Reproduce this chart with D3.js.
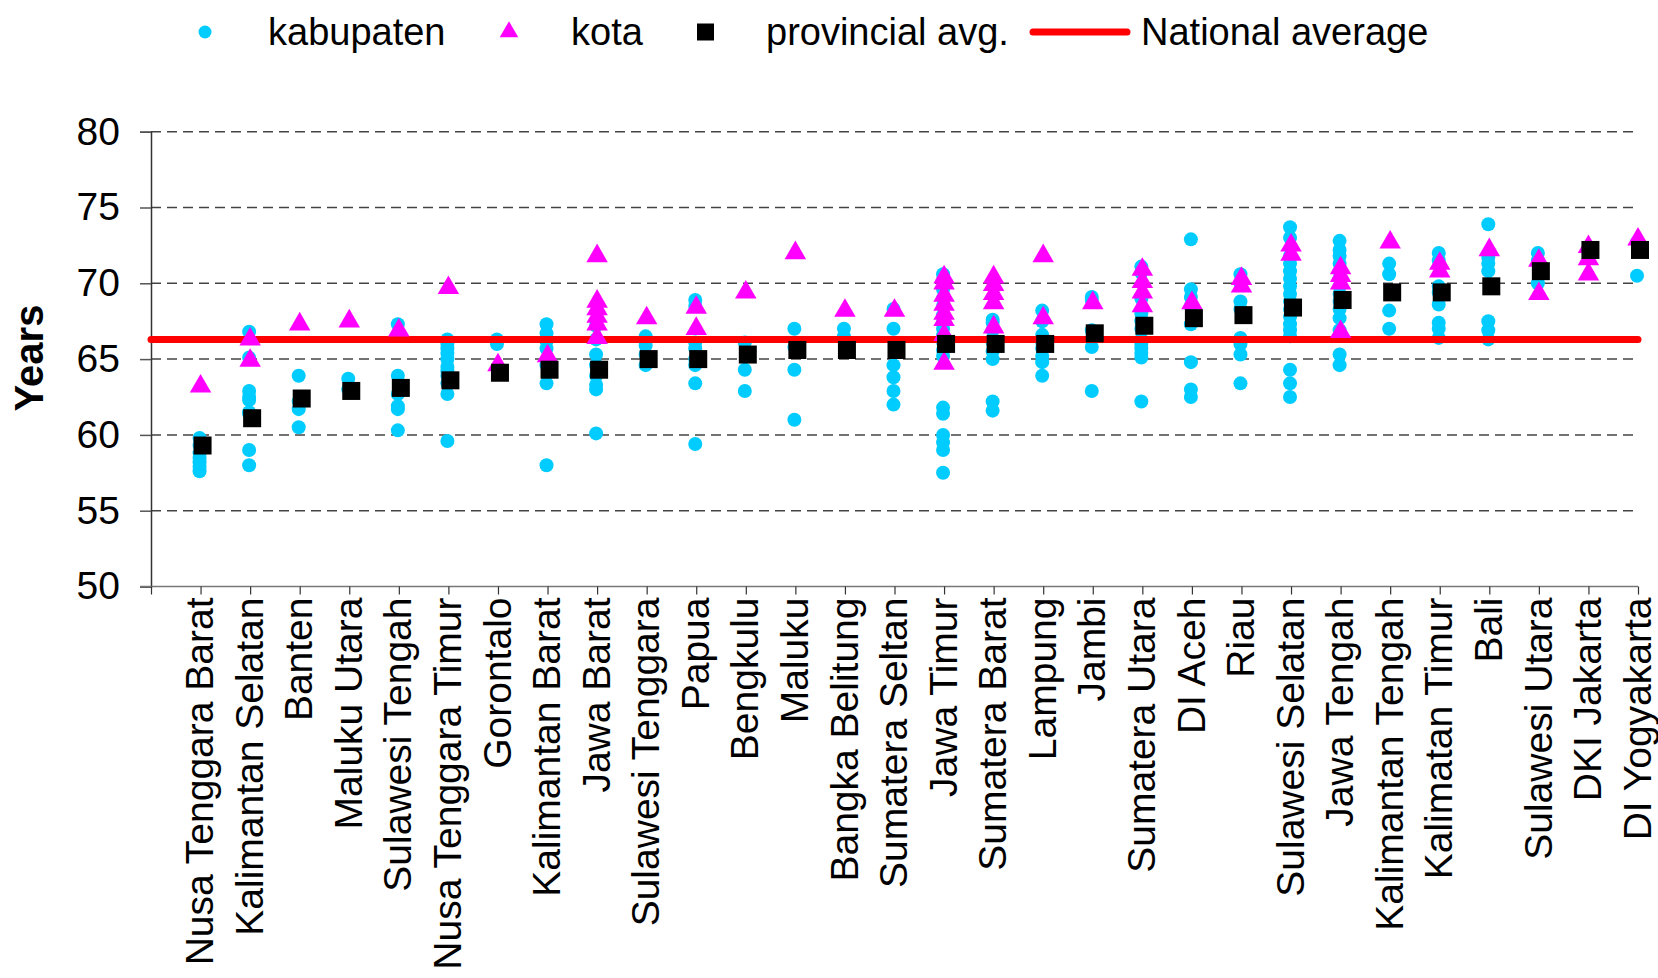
<!DOCTYPE html>
<html>
<head>
<meta charset="utf-8">
<script src="https://cdn.jsdelivr.net/npm/d3@7"></script>
<style>
  body { margin: 0; background: #fff; }
  text { font-family: "Liberation Sans", Arial, sans-serif; }
</style>
</head>
<body>
<script>
var provinces = ['Nusa Tenggara Barat', 'Kalimantan Selatan', 'Banten', 'Maluku Utara', 'Sulawesi Tengah',
    'Nusa Tenggara Timur', 'Gorontalo', 'Kalimantan Barat', 'Jawa Barat', 'Sulawesi Tenggara', 'Papua',
    'Bengkulu', 'Maluku', 'Bangka Belitung', 'Sumatera Seltan', 'Jawa Timur', 'Sumatera Barat', 'Lampung',
    'Jambi', 'Sumatera Utara', 'DI Aceh', 'Riau', 'Sulawesi Selatan', 'Jawa Tengah', 'Kalimantan Tengah',
    'Kalimatan Timur', 'Bali', 'Sulawesi Utara', 'DKI Jakarta', 'DI Yogyakarta'];

// one list per province, same order as above
var kabupaten = [
    [59.8, 59.3, 58.8, 58.5, 58.2, 57.9, 57.6],
    [66.8, 65.1, 62.9, 62.5, 62.3, 61.5, 61.4, 59.0, 58.0],
    [63.9, 62.2, 61.7, 60.5],
    [63.7, 63.0],
    [67.3, 63.9, 62.7, 61.9, 61.7, 60.3],
    [66.3, 66.0, 65.7, 65.4, 65.0, 64.5, 64.2, 63.9, 63.4, 62.7, 59.6],
    [66.3, 66.0],
    [67.3, 66.7, 66.2, 65.7, 64.6, 63.4, 58.0],
    [67.2, 66.3, 65.3, 64.6, 63.9, 63.3, 63.0, 60.1],
    [66.5, 65.9, 65.3, 64.6],
    [68.9, 68.5, 66.1, 65.7, 65.0, 64.6, 63.4, 59.4],
    [66.1, 64.3, 62.9],
    [67.0, 65.8, 64.3, 61.0],
    [67.0, 66.5],
    [68.3, 67.0, 64.6, 63.8, 62.9, 62.0],
    [70.6, 70.2, 69.6, 69.0, 68.5, 67.9, 67.4, 67.0, 66.6, 66.1, 65.6, 65.2, 61.8, 61.4, 60.0, 59.5, 59.0, 57.5],
    [67.6, 67.4, 66.9, 66.1, 65.5, 65.0, 62.2, 61.6],
    [68.2, 67.5, 66.6, 66.1, 65.7, 65.2, 64.8, 63.9],
    [69.1, 68.9, 66.9, 65.8, 62.9],
    [71.1, 70.7, 69.0, 68.0, 67.5, 67.0, 66.3, 66.0, 65.7, 65.4, 65.1, 62.2],
    [72.9, 69.6, 69.1, 68.5, 67.3, 64.8, 63.0, 62.5],
    [70.6, 70.0, 68.8, 68.3, 66.4, 66.0, 65.3, 63.4],
    [73.7, 73.0, 71.8, 71.3, 70.8, 70.3, 69.8, 69.3, 68.8, 68.3, 67.8, 67.3, 66.9, 66.5, 64.3, 63.4, 62.5],
    [72.8, 72.2, 71.8, 71.3, 70.8, 70.3, 69.8, 69.3, 68.8, 68.3, 67.7, 66.9, 65.3, 64.6],
    [71.3, 70.6, 68.2, 67.0],
    [72.0, 71.5, 69.8, 69.4, 68.6, 67.4, 67.0, 66.4],
    [73.9, 71.7, 71.3, 70.8, 67.5, 66.9, 66.3],
    [72.0, 71.5, 70.0],
    [],
    [72.7, 70.5]
];

var kota = [
    [63.2], [66.3, 64.9], [67.3], [67.5], [66.9], [69.7], [64.6], [65.2],
    [71.8, 68.8, 68.3, 67.8, 67.3, 66.4],
    [67.7], [68.4, 67.0], [69.4], [72.0], [68.2], [68.2],
    [70.4, 70.0, 69.2, 68.6, 68.0, 67.6, 66.6, 64.7],
    [70.4, 69.9, 69.3, 68.7, 67.1],
    [71.8, 67.7], [68.7], [70.9, 70.1, 69.4, 68.5], [68.7], [70.3, 69.8], [72.5, 71.9],
    [71.0, 70.5, 70.0, 66.8], [72.7], [71.3, 70.8], [72.2], [71.5, 69.3],
    [72.4, 71.6, 70.6], [72.9]
];

var provAvg = [59.3, 61.1, 62.4, 62.9, 63.1, 63.6, 64.1, 64.3, 64.3, 65.0, 65.0, 65.3, 65.6, 65.6, 65.6,
    66.0, 66.0, 66.0, 66.7, 67.2, 67.7, 67.9, 68.4, 68.9, 69.4, 69.4, 69.8, 70.8, 72.2, 72.2];

var nationalAvg = 66.3;
var yTicks = [50, 55, 60, 65, 70, 75, 80];

var width = 1658,
    height = 978,
    plotL = 151,
    plotR = 1638,
    plotT = 131.7,
    plotB = 586.5,
    x = d3.scaleLinear().domain([0, provinces.length]).range([plotL, plotR]),
    y = d3.scaleLinear().domain([50, 80]).range([plotB, plotT]),
    svg;

var cyan = '#00ccff', magenta = '#ff00ff';

function init() {
    svg = d3.select('body')
        .append('svg')
        .attr('width', width)
        .attr('height', height);
}

function axes() {
    // grid
    svg.append('g').selectAll('line')
        .data(yTicks.filter(function (d) { return d > 50; }))
        .enter().append('line')
        .attr('x1', plotL).attr('x2', plotR - 4)
        .attr('y1', function (d) { return y(d); })
        .attr('y2', function (d) { return y(d); })
        .attr('stroke', '#444')
        .attr('stroke-width', 1.5)
        .attr('stroke-dasharray', '10,6');

    var ya = svg.append('g')
        .attr('transform', 'translate(' + plotL + ',0)')
        .call(d3.axisLeft(y).tickValues(yTicks).tickSize(11).tickPadding(20));
    ya.select('.domain').attr('stroke', '#333').attr('stroke-width', 1.5);
    ya.selectAll('.tick line').attr('stroke', '#555').attr('stroke-width', 1.5);
    ya.selectAll('.tick text')
        .attr('font-size', 39)
        .attr('fill', '#000')
        .style('font-family', '"Liberation Sans", Arial, sans-serif');

    var xa = svg.append('g')
        .attr('transform', 'translate(0,' + plotB + ')')
        .call(d3.axisBottom(x).tickValues(d3.range(0, provinces.length + 1)).tickSize(8).tickFormat(''));
    xa.select('.domain').attr('stroke', '#777').attr('stroke-width', 1.5).attr('d', 'M' + (plotL - 11) + ',0H' + plotR);
    xa.selectAll('.tick line').attr('stroke', '#333').attr('stroke-width', 1.2);

    svg.append('g').selectAll('text')
        .data(provinces)
        .enter().append('text')
        .attr('transform', function (d, i) {
            return 'translate(' + (x(i + 1) - 1) + ',' + (plotB + 11) + ') rotate(-90)';
        })
        .attr('text-anchor', 'end')
        .attr('dy', '0.35em')
        .attr('font-size', 39)
        .text(function (d) { return d; });

    svg.append('text')
        .attr('transform', 'translate(29,358) rotate(-90)')
        .attr('text-anchor', 'middle')
        .attr('dy', '0.35em')
        .attr('font-size', 40)
        .attr('font-weight', 'bold')
        .text('Years');
}

function points() {
    var kab = [], kt = [];
    kabupaten.forEach(function (list, i) {
        list.forEach(function (v) { kab.push({ i: i + 1, v: v }); });
    });
    kota.forEach(function (list, i) {
        list.forEach(function (v) { kt.push({ i: i + 1, v: v }); });
    });

    svg.append('g').selectAll('circle')
        .data(kab)
        .enter().append('circle')
        .attr('cx', function (d) { return x(d.i) - 1; })
        .attr('cy', function (d) { return y(d.v); })
        .attr('r', 7)
        .attr('fill', cyan);

    svg.append('line')
        .attr('x1', x(0)).attr('x2', x(provinces.length))
        .attr('y1', y(nationalAvg)).attr('y2', y(nationalAvg))
        .attr('stroke', '#ff0000')
        .attr('stroke-width', 7)
        .attr('stroke-linecap', 'round');

    var tri = d3.symbol().type(d3.symbolTriangle).size(200);
    svg.append('g').selectAll('path')
        .data(kt)
        .enter().append('path')
        .attr('d', tri)
        .attr('transform', function (d) { return 'translate(' + x(d.i) + ',' + y(d.v) + ')'; })
        .attr('fill', magenta);

    svg.append('g').selectAll('rect')
        .data(provAvg)
        .enter().append('rect')
        .attr('x', function (d, i) { return x(i + 1) + 2 - 9; })
        .attr('y', function (d) { return y(d) - 9; })
        .attr('width', 18)
        .attr('height', 18)
        .attr('fill', '#000');
}

function legend() {
    var g = svg.append('g').attr('transform', 'translate(0,32)');
    g.append('circle').attr('cx', 205).attr('cy', 0).attr('r', 6.5).attr('fill', cyan);
    g.append('path').attr('d', d3.symbol().type(d3.symbolTriangle).size(150))
        .attr('transform', 'translate(509,0)').attr('fill', magenta);
    g.append('rect').attr('x', 697).attr('y', -8.5).attr('width', 17).attr('height', 17).attr('fill', '#000');
    g.append('line').attr('x1', 1033).attr('x2', 1127).attr('y1', 0).attr('y2', 0)
        .attr('stroke', '#ff0000').attr('stroke-width', 7).attr('stroke-linecap', 'round');

    var labels = [['kabupaten', 268], ['kota', 571], ['provincial avg.', 766], ['National average', 1141]];
    g.selectAll('text')
        .data(labels)
        .enter().append('text')
        .attr('x', function (d) { return d[1]; })
        .attr('dy', '0.35em')
        .attr('font-size', 38)
        .text(function (d) { return d[0]; });
}

init();
axes();
points();
legend();
</script>
</body>
</html>
